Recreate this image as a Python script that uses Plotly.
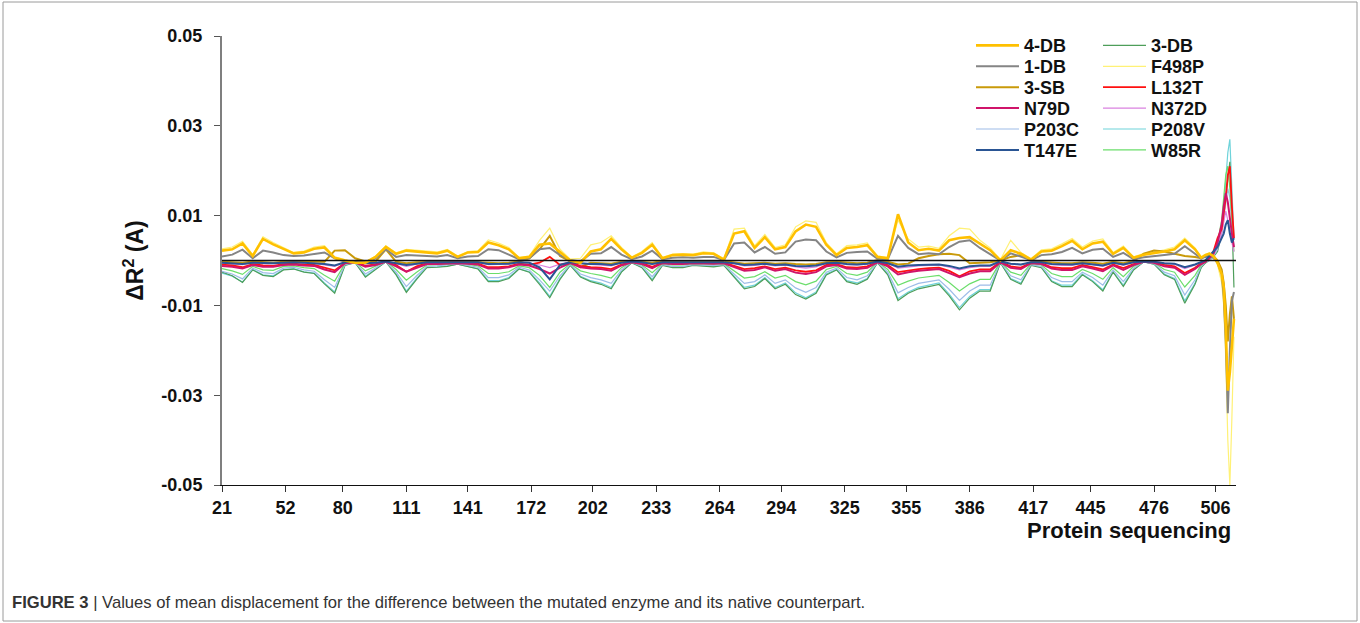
import plotly.graph_objects as go

# residue positions (categories)
residues = list(range(21, 497, 5)) + [499, 501, 503, 505, 507, 509, 510, 511, 512, 513, 514, 515]

# values in units of 1e-3 (A)
s_4db = [2.2,2.5,3.8,1.0,4.8,3.6,2.6,1.6,1.8,2.6,
         2.9,0.6,0.0,-0.5,-0.5,0.8,3.0,1.5,2.2,2.0,
         1.8,1.6,2.2,0.8,1.8,1.9,4.0,3.4,2.5,0.5,
         0.8,3.5,3.8,2.0,0.0,-0.5,2.0,2.5,4.8,2.5,
         0.6,1.7,3.5,0.5,1.2,1.3,1.2,1.6,1.5,0.2,
         6.0,6.5,2.8,5.2,2.5,3.0,6.5,8.0,7.5,3.5,
         1.2,2.8,3.0,3.4,0.8,0.5,10.3,4.0,2.3,2.6,
         2.2,4.5,5.0,5.2,3.8,2.3,0.0,2.3,1.5,0.2,
         2.0,2.2,3.2,4.4,2.5,3.8,4.2,1.5,2.8,0.6,
         1.3,1.6,2.0,2.5,4.5,2.5,
         0.6,1.2,1.5,1.0,-0.5,-3.0,-6.0,-15.0,-29.0,-25.0,-18.0,-13.0]
s_f498p = [2.6,3.0,4.3,1.3,5.3,4.0,2.9,1.8,2.1,3.0,
           3.3,0.8,0.2,-0.3,-0.3,1.0,3.3,1.7,2.5,2.3,
           2.1,1.9,2.5,1.0,2.0,2.2,4.6,3.9,2.9,0.7,
           1.0,4.5,7.2,2.5,0.3,0.5,3.5,4.0,5.5,2.9,
           0.8,2.0,4.0,0.7,1.4,1.5,1.4,1.9,1.7,0.4,
           7.0,7.2,3.3,5.8,2.9,3.5,7.5,8.8,8.5,4.0,
           1.5,3.3,3.5,3.9,1.0,0.7,9.0,4.8,3.0,3.2,
           2.7,5.5,7.2,7.0,4.5,2.8,0.2,4.5,1.8,0.4,
           2.4,2.6,3.7,4.9,3.0,4.3,4.8,1.8,3.2,0.8,
           1.6,1.9,2.4,3.0,5.0,2.8,
           0.8,1.4,1.7,1.3,-1.0,-5.0,-10.0,-22.0,-40.0,-50.0,-35.0,-17.0]
s_1db = [0.9,1.3,2.4,0.5,2.2,1.8,1.2,1.0,1.1,1.5,
         1.8,0.5,-0.2,-0.4,-0.3,0.5,2.5,0.8,1.2,1.1,
         1.0,0.9,1.2,0.5,0.9,1.0,2.5,2.3,1.3,0.3,
         0.5,2.5,2.8,1.2,0.1,-0.2,1.5,1.6,3.0,1.3,
         0.3,0.9,2.2,0.3,0.6,0.7,0.6,0.8,0.8,0.1,
         3.8,4.0,1.8,3.0,1.5,1.8,4.2,4.7,4.5,2.0,
         0.7,1.7,1.9,2.0,0.4,0.3,5.5,2.8,1.4,1.6,
         1.4,3.0,4.2,4.5,2.8,1.4,0.0,1.6,0.9,0.1,
         1.2,1.4,1.9,2.8,1.6,2.4,2.6,0.8,1.7,0.3,
         0.7,0.9,1.2,1.5,3.2,1.5,
         0.4,0.8,1.0,0.6,-0.5,-3.0,-8.0,-18.0,-34.0,-20.0,-9.0,-7.0]
s_3sb = [-0.3,-0.4,-0.5,-0.2,-0.4,-0.5,-0.3,-0.3,-0.4,-0.4,
         -0.3,2.2,2.3,0.5,-0.2,-0.2,2.5,-0.3,-0.6,-0.4,
         -0.3,-0.3,-0.3,-0.2,-0.3,-0.4,-0.6,-0.6,-0.5,-0.2,
         0.5,2.5,5.5,1.0,-0.2,-1.5,-0.5,-0.6,-0.7,-0.3,
         -0.1,-0.3,-0.5,-0.1,-0.3,-0.3,-0.2,-0.3,-0.3,-0.1,
         -0.4,-0.7,-0.6,-0.5,-0.7,-0.6,-0.8,-0.9,-0.8,-0.4,
         -0.3,-0.5,-0.6,-0.5,0.1,-0.3,-0.9,-0.7,0.5,1.0,
         1.4,1.5,1.2,-0.6,-0.5,-0.4,0.0,0.8,1.2,0.1,
         -0.3,-0.5,-0.6,-0.6,-0.4,-0.5,-0.7,-0.3,-0.6,-0.1,
         1.5,2.2,2.0,1.5,1.0,0.8,
         0.5,1.0,1.5,1.0,0.0,-2.0,-5.0,-10.0,-18.0,-12.0,-8.0,-13.0]
s_p208v = [-2.8,-3.5,-4.8,-2.0,-3.2,-3.4,-2.0,-1.8,-2.5,-2.8,
           -5.0,-7.0,-1.0,-0.5,-3.5,-2.0,-0.3,-3.0,-6.8,-4.0,
           -1.5,-1.4,-1.2,-0.8,-1.3,-1.8,-4.5,-4.5,-3.8,-1.8,
           -2.5,-5.0,-8.0,-4.0,-1.0,-3.5,-4.5,-5.0,-6.0,-2.5,
           -0.5,-1.5,-4.2,-1.0,-1.5,-1.5,-1.0,-1.2,-1.3,-1.0,
           -3.5,-6.0,-5.5,-3.8,-6.0,-5.0,-7.2,-8.3,-7.0,-3.0,
           -2.0,-4.5,-5.0,-4.0,-0.5,-3.0,-8.5,-7.0,-6.0,-5.5,
           -5.0,-7.5,-10.5,-8.0,-6.5,-6.5,-0.5,-4.0,-5.0,-1.0,
           -1.5,-4.5,-5.5,-5.5,-3.0,-4.5,-6.5,-2.5,-5.5,-2.0,
           -0.3,-0.8,-3.0,-4.0,-9.0,-5.0,
           -1.5,-0.5,0.0,1.0,3.0,8.0,12.0,18.0,24.0,27.0,15.0,5.0]
s_3db = [-2.6,-3.4,-4.9,-2.1,-3.3,-3.6,-2.1,-1.9,-2.6,-2.9,
         -5.2,-7.3,-1.1,-0.5,-3.7,-2.1,-0.3,-3.2,-7.1,-4.2,
         -1.6,-1.5,-1.3,-0.8,-1.4,-1.9,-4.7,-4.7,-4.0,-1.9,
         -2.6,-5.3,-8.3,-4.2,-1.1,-3.7,-4.7,-5.3,-6.3,-2.6,
         -0.5,-1.6,-4.5,-1.1,-1.6,-1.6,-1.1,-1.3,-1.4,-1.1,
         -3.7,-6.3,-5.8,-4.0,-6.3,-5.3,-7.6,-8.6,-7.3,-3.2,
         -2.1,-4.7,-5.3,-4.2,-0.5,-3.2,-8.9,-7.3,-6.3,-5.8,
         -5.3,-7.9,-11.0,-8.4,-6.8,-6.8,-0.5,-4.2,-5.3,-1.1,
         -1.6,-4.7,-5.8,-5.8,-3.2,-4.7,-6.8,-2.6,-5.8,-2.1,
         -0.3,-0.8,-3.2,-4.2,-9.5,-5.3,
         -1.6,-0.6,0.2,0.8,2.0,6.0,10.0,14.0,19.0,22.0,10.0,-6.0]
s_p203c = [-2.4,-3.0,-4.1,-1.7,-2.7,-2.9,-1.7,-1.5,-2.1,-2.4,
           -4.3,-6.0,-0.9,-0.4,-3.0,-1.7,-0.3,-2.6,-5.8,-3.4,
           -1.3,-1.2,-1.0,-0.7,-1.1,-1.5,-3.8,-3.8,-3.2,-1.5,
           -2.1,-4.3,-6.8,-3.4,-0.9,-3.0,-3.8,-4.3,-5.1,-2.1,
           -0.4,-1.3,-3.6,-0.9,-1.3,-1.3,-0.9,-1.0,-1.1,-0.9,
           -3.0,-5.1,-4.7,-3.2,-5.1,-4.3,-6.1,-7.1,-6.0,-2.6,
           -1.7,-3.8,-4.3,-3.4,-0.4,-2.6,-7.2,-6.0,-5.1,-4.7,
           -4.3,-6.4,-8.9,-6.8,-5.5,-5.5,-0.4,-3.4,-4.3,-0.9,
           -1.3,-3.8,-4.7,-4.7,-2.6,-3.8,-5.5,-2.1,-4.7,-1.7,
           -0.3,-0.7,-2.6,-3.4,-7.7,-4.3,
           -1.3,-0.4,0.0,1.0,2.5,6.0,9.0,13.0,16.0,14.0,8.0,3.0]
s_w85r = [-1.8,-2.3,-3.1,-1.3,-2.1,-2.2,-1.3,-1.2,-1.6,-1.8,
          -3.3,-4.6,-0.7,-0.3,-2.3,-1.3,-0.2,-2.0,-4.4,-2.6,
          -1.0,-0.9,-0.8,-0.5,-0.8,-1.2,-2.9,-2.9,-2.5,-1.2,
          -1.6,-3.3,-6.0,-2.6,-0.7,-2.3,-2.9,-3.3,-3.9,-1.6,
          -0.3,-1.0,-2.7,-0.7,-1.0,-1.0,-0.7,-0.8,-0.8,-0.7,
          -2.3,-3.9,-3.6,-2.5,-3.9,-3.3,-4.7,-5.4,-4.6,-2.0,
          -1.3,-2.9,-3.3,-2.6,-0.3,-2.0,-5.5,-4.6,-3.9,-3.6,
          -3.3,-4.9,-6.8,-5.2,-4.2,-4.2,-0.3,-2.6,-3.3,-0.7,
          -1.0,-2.9,-3.6,-3.6,-2.0,-2.9,-4.2,-1.6,-3.6,-1.3,
          -0.2,-0.5,-2.0,-2.6,-5.9,-3.3,
          -1.0,-0.3,0.3,1.5,4.0,9.0,14.0,19.0,21.0,16.0,9.0,2.0]
s_n79d = [-1.2,-1.4,-1.8,-1.0,-1.4,-1.4,-1.0,-0.9,-1.1,-1.2,
          -2.0,-2.6,-0.6,-0.4,-1.4,-1.0,-0.3,-1.3,-2.5,-1.6,
          -0.8,-0.8,-0.7,-0.6,-0.7,-0.9,-1.8,-1.8,-1.5,-0.9,
          -1.1,-1.9,-2.9,-1.6,-0.6,-1.5,-1.8,-1.9,-2.3,-1.1,
          -0.4,-0.8,-1.7,-0.6,-0.8,-0.8,-0.6,-0.7,-0.7,-0.6,
          -1.4,-2.3,-2.1,-1.5,-2.3,-1.9,-2.7,-3.0,-2.6,-1.3,
          -1.0,-1.8,-1.9,-1.6,-0.4,-1.3,-3.1,-2.6,-2.3,-2.1,
          -1.9,-2.8,-3.7,-2.9,-2.4,-2.4,-0.4,-1.6,-1.9,-0.6,
          -0.8,-1.8,-2.1,-2.1,-1.3,-1.8,-2.4,-1.1,-2.1,-1.0,
          -0.3,-0.5,-1.3,-1.6,-3.2,-1.9,
          -0.8,-0.3,0.5,1.5,4.0,8.0,12.0,15.0,13.0,9.0,6.0,3.0]
s_l132t = [-0.9,-1.1,-1.5,-0.8,-1.1,-1.2,-0.8,-0.7,-0.9,-1.0,
           -1.6,-2.2,-0.5,-0.3,-1.2,-0.8,-0.2,-1.0,-2.5,-1.3,
           -0.6,-0.6,-0.5,-0.4,-0.6,-0.7,-1.5,-1.5,-1.3,-0.7,
           -0.9,-0.5,0.8,-1.0,-0.5,-1.2,-1.5,-1.6,-1.9,-0.9,
           -0.3,-0.6,-1.4,-0.5,-0.6,-0.6,-0.5,-0.5,-0.6,-0.5,
           -1.2,-1.9,-1.7,-1.3,-1.9,-1.6,-2.2,-2.5,-2.2,-1.0,
           -0.8,-1.5,-1.6,-1.3,-0.3,-1.0,-2.6,-2.2,-1.9,-1.7,
           -1.6,-2.3,-3.5,-2.4,-2.0,-2.0,-0.3,-1.3,-1.6,-0.5,
           -0.6,-1.5,-1.7,-1.7,-1.0,-1.5,-2.0,-0.9,-1.7,-0.8,
           -0.2,-0.4,-1.0,-1.3,-2.8,-1.6,
           -0.6,-0.2,0.5,2.0,5.0,7.0,10.0,14.0,19.0,21.0,12.0,5.0]
s_n372d = [-0.6,-0.7,-0.9,-0.5,-0.7,-0.7,-0.5,-0.4,-0.6,-0.6,
           -1.0,-1.3,-0.3,-0.2,-0.7,-0.5,-0.1,-0.7,-1.3,-0.8,
           -0.4,-0.4,-0.3,-0.2,-0.3,-0.4,-0.9,-0.9,-0.8,-0.4,
           -0.5,-1.0,-1.6,-0.8,-0.3,-0.7,-0.9,-1.0,-1.2,-0.5,
           -0.1,-0.4,-0.8,-0.3,-0.4,-0.4,-0.3,-0.3,-0.3,-0.3,
           -0.7,-1.2,-1.1,-0.8,-1.2,-1.0,-1.4,-1.7,-1.4,-0.6,
           -0.4,-0.9,-1.0,-0.8,-0.1,-0.6,-1.7,-1.4,-1.2,-1.1,
           -1.0,-1.5,-2.1,-1.6,-1.3,-1.3,-0.1,-0.8,-1.0,-0.3,
           -0.4,-0.9,-1.1,-1.1,-0.6,-0.9,-1.3,-0.5,-1.1,-0.4,
           -0.1,-0.2,-0.6,-0.8,-1.8,-1.0,
           -0.3,0.0,0.5,1.5,3.0,6.0,9.0,11.0,9.0,7.0,4.0,2.0]
s_t147e = [-0.5,-0.6,-0.8,-0.5,-0.6,-0.6,-0.5,-0.4,-0.5,-0.6,
           -0.8,-1.1,-0.4,-0.3,-0.6,-0.5,-0.2,-0.6,-1.0,-0.7,
           -0.4,-0.4,-0.4,-0.3,-0.4,-0.4,-0.8,-0.8,-0.7,-0.4,
           -0.5,-1.5,-4.2,-1.0,-0.4,-0.6,-0.8,-0.8,-1.0,-0.5,
           -0.2,-0.4,-0.8,-0.4,-0.4,-0.4,-0.4,-0.4,-0.4,-0.4,
           -0.6,-1.0,-0.9,-0.7,-1.0,-0.9,-1.2,-1.3,-1.1,-0.6,
           -0.5,-0.8,-0.9,-0.7,-0.2,-0.6,-1.4,-1.1,-1.0,-0.9,
           -0.9,-1.2,-1.8,-1.3,-1.1,-1.1,-0.2,-0.7,-0.9,-0.4,
           -0.4,-0.8,-0.9,-0.9,-0.6,-0.8,-1.1,-0.5,-0.9,-0.4,
           -0.2,-0.3,-0.6,-0.7,-1.5,-0.9,
           -0.4,0.0,1.0,2.0,3.0,5.0,6.0,8.0,9.0,6.0,4.0,5.0]

UNIT = 1e-3

x_ticks = [21, 52, 80, 111, 141, 172, 202, 233, 264, 294, 325, 355, 386, 417, 445, 476, 506]
y_ticks = [-0.05, -0.03, -0.01, 0.01, 0.03, 0.05]
y_ticktext = ["<b>-0.05</b>", "<b>-0.03</b>", "<b>-0.01</b>", "<b>0.01</b>", "<b>0.03</b>", "<b>0.05</b>"]

# legend layout: (column, row) for each series
legend_slots = {
    "4-DB": (0, 0), "1-DB": (0, 1), "3-SB": (0, 2), "N79D": (0, 3), "P203C": (0, 4), "T147E": (0, 5),
    "3-DB": (1, 0), "F498P": (1, 1), "L132T": (1, 2), "N372D": (1, 3), "P208V": (1, 4), "W85R": (1, 5),
}

# name, values, color, width ; listed in drawing order (bottom first)
series = [
    ("P208V", s_p208v, "#6ED3DA", 1.2),
    ("3-DB", s_3db, "#4E9E5A", 1.2),
    ("P203C", s_p203c, "#9DBCE8", 1.2),
    ("W85R", s_w85r, "#6BDE6B", 1.2),
    ("N372D", s_n372d, "#DA82E0", 1.2),
    ("F498P", s_f498p, "#FFF176", 1.2),
    ("3-SB", s_3sb, "#C99A0A", 2.0),
    ("1-DB", s_1db, "#858585", 2.0),
    ("L132T", s_l132t, "#FF1010", 1.8),
    ("N79D", s_n79d, "#D0146A", 2.0),
    ("T147E", s_t147e, "#2A5594", 2.0),
    ("4-DB", s_4db, "#FFC000", 2.6),
]

# plot-area geometry in page pixels (used to place legends / annotations)
PL, PR, PT, PB = 222, 1236, 36, 485
W, H = 1360, 623

def px_x(px):
    return (px - PL) / (PR - PL)

def px_y(py):
    return (PB - py) / (PB - PT)

font_family = "Liberation Sans, Arial, sans-serif"

fig = go.Figure()
legend_layouts = {}
for i, (name, vals, color, width) in enumerate(series):
    key = "legend" if i == 0 else f"legend{i + 1}"
    fig.add_trace(go.Scatter(
        x=residues, y=[v * UNIT for v in vals], mode="lines", name=name,
        line=dict(color=color, width=width), legend=key,
    ))
    col, row = legend_slots[name]
    left_px = 971 if col == 0 else 1098
    row_px = 45.7 + row * 20.9
    legend_layouts[key] = dict(
        x=px_x(left_px), y=px_y(row_px), xanchor="left", yanchor="middle",
        font=dict(family=font_family, size=18, color="#111111", weight="bold"),
        bgcolor="rgba(0,0,0,0)", borderwidth=0, itemwidth=43,
        orientation="v", tracegroupgap=0,
    )

fig.update_layout(
    width=W, height=H,
    paper_bgcolor="white", plot_bgcolor="white",
    margin=dict(l=PL, r=W - PR, t=PT, b=H - PB),
    font=dict(family=font_family, color="#111111"),
    showlegend=True,
    xaxis=dict(
        range=[21, 516], tickmode="array", tickvals=x_ticks,
        ticktext=[f"<b>{t}</b>" for t in x_ticks],
        tickfont=dict(size=18, color="#111111"),
        showgrid=False, zeroline=False,
        showline=True, linecolor="#111111", linewidth=1.2,
        ticks="outside", ticklen=6, tickcolor="#333333", tickwidth=1.2,
        ticklabelstandoff=0,
    ),
    xaxis2=dict(
        overlaying="x", anchor="y", side="bottom", range=[21, 516],
        tickmode="array", tickvals=x_ticks, showticklabels=False,
        showgrid=False, zeroline=False, showline=False,
        ticks="inside", ticklen=6, tickcolor="#333333", tickwidth=1.2,
    ),
    yaxis=dict(
        range=[-0.05, 0.05], tickmode="array", tickvals=y_ticks, ticktext=y_ticktext,
        tickfont=dict(size=18, color="#111111"),
        showgrid=False, zeroline=False,
        showline=True, linecolor="#7F7F7F", linewidth=2,
        ticks="outside", ticklen=6, tickcolor="#555555", tickwidth=1.2,
        ticklabelstandoff=8,
        title=dict(text="<b>\u0394R<sup>2</sup> (A)</b>", font=dict(size=23, color="#111111"), standoff=11),
    ),
    yaxis2=dict(
        overlaying="y", anchor="x", side="left", range=[-0.05, 0.05],
        tickmode="array", tickvals=y_ticks, showticklabels=False,
        showgrid=False, zeroline=False, showline=False,
        ticks="inside", ticklen=6, tickcolor="#555555", tickwidth=1.2,
    ),
    shapes=[
        dict(type="line", xref="x", yref="y", x0=21, x1=516, y0=0, y1=0,
             line=dict(color="#111111", width=1.5), layer="above"),
        dict(type="rect", xref="paper", yref="paper",
             x0=px_x(3), x1=px_x(1357), y0=px_y(621), y1=px_y(2),
             line=dict(color="#9A9A9A", width=1), layer="below"),
    ],
    annotations=[
        dict(text="<b>Protein sequencing</b>", xref="paper", yref="paper",
             x=px_x(1233), y=px_y(530), xanchor="right", yanchor="middle",
             showarrow=False, font=dict(size=22, color="#111111")),
        dict(text="<b>FIGURE 3</b> | Values of mean displacement for the difference between the mutated enzyme and its native counterpart.",
             xref="paper", yref="paper", x=px_x(10), y=px_y(602),
             xanchor="left", yanchor="middle", showarrow=False,
             font=dict(size=16.6, color="#333333")),
    ],
)
fig.update_layout(**legend_layouts)

fig.write_html("out.html", config={"displayModeBar": False},
               post_script="document.body.style.margin='0px';")
